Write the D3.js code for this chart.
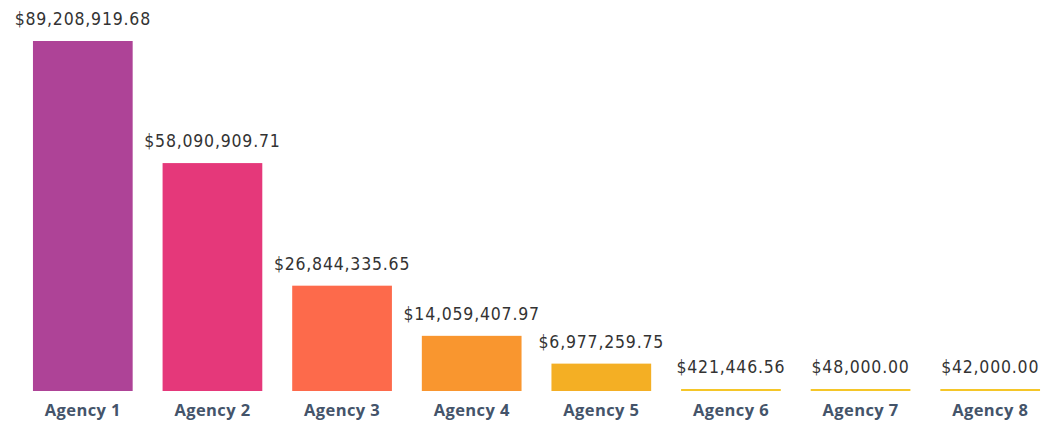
<!DOCTYPE html>
<html>
<head>
<meta charset="utf-8">
<script src="https://cdn.jsdelivr.net/npm/d3@7"></script>
<style>
  body { margin: 0; background: #fff; }
  .value-label { font-family: "DejaVu Sans Condensed", "DejaVu Sans", sans-serif; font-size: 17.5px; fill: #333; letter-spacing: 0.8px; }
  .cat-label { font-family: "Open Sans", sans-serif; font-weight: 700; font-size: 16.5px; fill: #44546a; letter-spacing: 0.4px; }
</style>
</head>
<body>
<div id="chart"></div>
<script>
// Chart data
const agencies = ['Agency 1', 'Agency 2', 'Agency 3', 'Agency 4', 'Agency 5', 'Agency 6', 'Agency 7', 'Agency 8'];
const amounts = [89208919.68, 58090909.71, 26844335.65, 14059407.97, 6977259.75, 421446.56, 48000.00, 42000.00];
const barColors = ['#ae4397', '#e5387a', '#fd6a4b', '#f9962f', '#f4af24', '#f5c628', '#f5c628', '#f5c628'];

const data = agencies.map((a, i) => ({ agency: a, amount: amounts[i], color: barColors[i] }));

const svgWidth = 1041;
const svgHeight = 422;
const baseline = 391;

const svg = d3.select('#chart')
    .append('svg')
    .attr('width', svgWidth)
    .attr('height', svgHeight);

// Scales
const xScale = d3.scaleBand()
    .domain(agencies)
    .range([18, 1055])
    .paddingInner(0.2308)
    .paddingOuter(0.1154);
const yScale = d3.scaleLinear()
    .domain([0, d3.max(amounts)])
    .range([baseline, 41]);

const fmt = d3.format('$,.2f');

// Bars (tiny values still show as a thin line)
svg.selectAll('rect')
    .data(data)
    .enter()
    .append('rect')
    .attr('x', d => xScale(d.agency))
    .attr('width', xScale.bandwidth())
    .attr('y', d => Math.min(yScale(d.amount), baseline - 2))
    .attr('height', d => Math.max(baseline - yScale(d.amount), 2))
    .attr('fill', d => d.color);

// Value labels
svg.selectAll('.value-label')
    .data(data)
    .enter()
    .append('text')
    .attr('class', 'value-label')
    .attr('x', d => xScale(d.agency) + xScale.bandwidth() / 2)
    .attr('y', d => Math.min(yScale(d.amount), baseline - 2) - 16)
    .attr('text-anchor', 'middle')
    .text(d => fmt(d.amount));

// Category axis
const xAxis = svg.append('g')
    .attr('transform', `translate(0,${baseline})`)
    .call(d3.axisBottom(xScale).tickSize(0).tickPadding(13));
xAxis.select('.domain').remove();
xAxis.selectAll('text')
    .attr('class', 'cat-label')
    .attr('fill', null)
    .attr('font-size', null)
    .attr('font-family', null);
</script>
</body>
</html>
